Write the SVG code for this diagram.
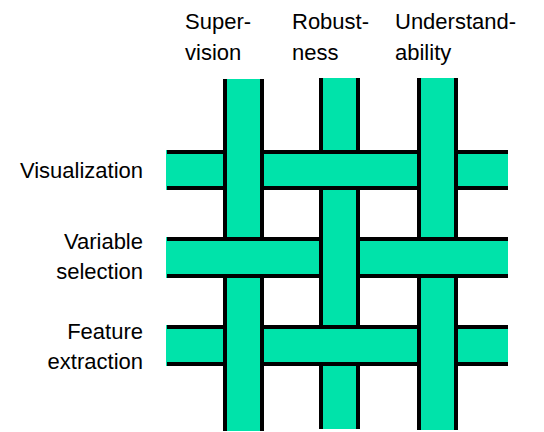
<svg xmlns="http://www.w3.org/2000/svg" width="544" height="432" viewBox="0 0 544 432">
  <style>
    .band { fill: #00E3AA; }
    .edge { fill: #000000; }
    .lbl { font-family: "Liberation Sans", Arial, sans-serif; font-size: 22px; fill: #000000; }
    .right { text-anchor: end; }
  </style>

  <!-- column headings -->
  <g id="col-supervision">
    <text class="lbl" x="185" y="29">Super-</text>
    <text class="lbl" x="185" y="60">vision</text>
  </g>
  <g id="col-robustness">
    <text class="lbl" x="292" y="29">Robust-</text>
    <text class="lbl" x="292" y="60">ness</text>
  </g>
  <g id="col-understandability">
    <text class="lbl" x="395" y="29">Understand-</text>
    <text class="lbl" x="395" y="60">ability</text>
  </g>

  <!-- row headings -->
  <g id="row-visualization">
    <text class="lbl right" x="143" y="178">Visualization</text>
  </g>
  <g id="row-variable-selection">
    <text class="lbl right" x="143" y="249">Variable</text>
    <text class="lbl right" x="143" y="279">selection</text>
  </g>
  <g id="row-feature-extraction">
    <text class="lbl right" x="143" y="339">Feature</text>
    <text class="lbl right" x="143" y="369">extraction</text>
  </g>

  <!-- weave: horizontal strands (bottom layer) -->
  <g id="weft">
    <g id="weft-1">
      <rect class="band" x="166" y="150" width="342" height="40"/>
      <rect class="edge" x="167" y="150" width="341" height="4"/>
      <rect class="edge" x="167" y="186" width="341" height="4"/>
    </g>
    <g id="weft-2">
      <rect class="band" x="166" y="237" width="342" height="41"/>
      <rect class="edge" x="167" y="237" width="341" height="4"/>
      <rect class="edge" x="167" y="274" width="341" height="4"/>
    </g>
    <g id="weft-3">
      <rect class="band" x="166" y="325" width="342" height="41"/>
      <rect class="edge" x="167" y="325" width="341" height="4"/>
      <rect class="edge" x="167" y="362" width="341" height="4"/>
    </g>
  </g>

  <!-- vertical strands -->
  <g id="warp">
    <g id="warp-1">
      <rect class="band" x="223" y="79" width="41" height="352"/>
      <rect class="edge" x="223" y="79" width="4" height="352"/>
      <rect class="edge" x="260" y="79" width="4" height="352"/>
    </g>
    <g id="warp-2">
      <rect class="band" x="319" y="78" width="41" height="351"/>
      <rect class="edge" x="319" y="78" width="4" height="351"/>
      <rect class="edge" x="356" y="78" width="4" height="351"/>
    </g>
    <g id="warp-3">
      <rect class="band" x="417" y="78" width="41" height="352"/>
      <rect class="edge" x="417" y="78" width="4" height="352"/>
      <rect class="edge" x="454" y="78" width="4" height="352"/>
    </g>
  </g>

  <!-- crossings where the horizontal strand passes over -->
  <g id="over">
    <g id="over-1-2">
      <rect class="band" x="319" y="150" width="41" height="40"/>
      <rect class="edge" x="319" y="150" width="41" height="4"/>
      <rect class="edge" x="319" y="186" width="41" height="4"/>
    </g>
    <g id="over-2-1">
      <rect class="band" x="223" y="237" width="41" height="41"/>
      <rect class="edge" x="223" y="237" width="41" height="4"/>
      <rect class="edge" x="223" y="274" width="41" height="4"/>
    </g>
    <g id="over-2-3">
      <rect class="band" x="417" y="237" width="41" height="41"/>
      <rect class="edge" x="417" y="237" width="41" height="4"/>
      <rect class="edge" x="417" y="274" width="41" height="4"/>
    </g>
    <g id="over-3-2">
      <rect class="band" x="319" y="325" width="41" height="41"/>
      <rect class="edge" x="319" y="325" width="41" height="4"/>
      <rect class="edge" x="319" y="362" width="41" height="4"/>
    </g>
  </g>
</svg>
